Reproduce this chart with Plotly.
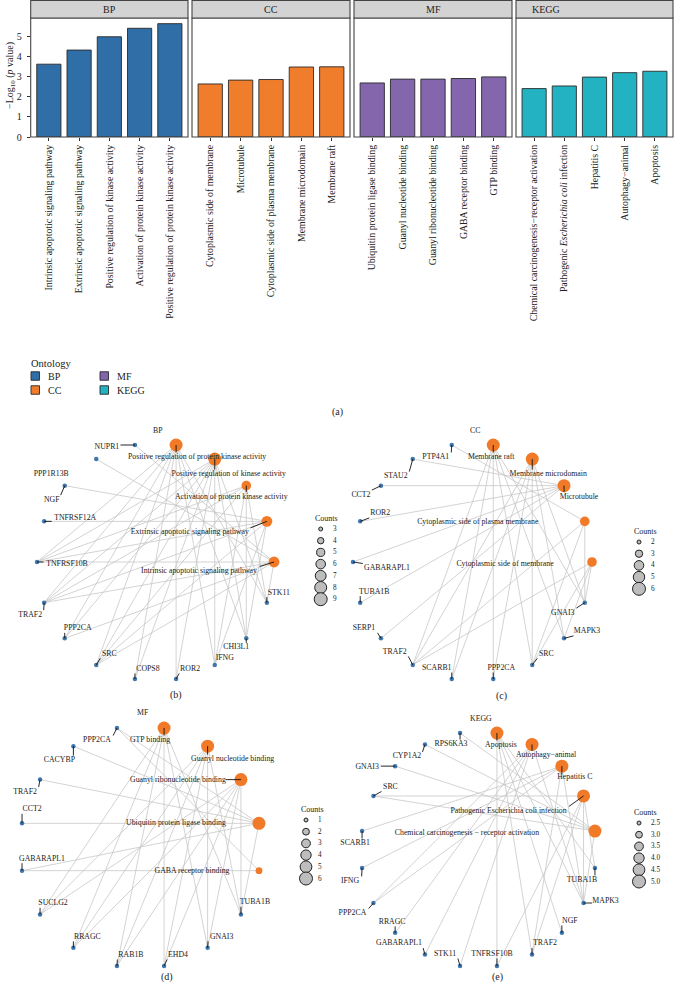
import math
import plotly.graph_objects as go

W, H = 674, 987
FONT = "Liberation Serif"

# ---------------- (a) bar chart data ----------------
ontologies = ["BP", "CC", "MF", "KEGG"]
bp_terms = ["Intrinsic apoptotic signaling pathway", "Extrinsic apoptotic signaling pathway",
            "Positive regulation of kinase activity", "Activation of protein kinase activity",
            "Positive regulation of protein kinase activity"]
bp_logp = [3.61, 4.31, 4.97, 5.39, 5.62]
cc_terms = ["Cytoplasmic side of membrane", "Microtubule", "Cytoplasmic side of plasma membrane",
            "Membrane microdomain", "Membrane raft"]
cc_logp = [2.63, 2.82, 2.85, 3.47, 3.48]
mf_terms = ["Ubiquitin protein ligase binding", "Guanyl nucleotide binding",
            "Guanyl ribonucleotide binding", "GABA receptor binding", "GTP binding"]
mf_logp = [2.68, 2.87, 2.87, 2.90, 2.98]
kegg_terms = ["Chemical carcinogenesis−receptor activation", "Pathogenic Escherichia coli infection",
              "Hepatitis C", "Autophagy−animal", "Apoptosis"]
kegg_ticktext = ["Chemical carcinogenesis−receptor activation",
                 "Pathogenic <i>Escherichia coli</i> infection",
                 "Hepatitis C", "Autophagy−animal", "Apoptosis"]
kegg_logp = [2.40, 2.53, 2.97, 3.19, 3.26]
y_ticks = [0, 1, 2, 3, 4, 5]

# ---------------- (b)-(e) network data ----------------
bp_net_nodes = ["Positive regulation of protein kinase activity", "Positive regulation of kinase activity",
                "Activation of protein kinase activity", "Extrinsic apoptotic signaling pathway",
                "Intrinsic apoptotic signaling pathway", "STK11", "CHI3L1", "IFNG", "ROR2", "COPS8", "SRC",
                "PPP2CA", "TRAF2", "TNFRSF10B", "TNFRSF12A", "NGF", "PPP1R13B", "NUPR1"]
bp_net_edges = {
    "Positive regulation of protein kinase activity":
        ["PPP2CA", "SRC", "COPS8", "ROR2", "IFNG", "CHI3L1", "TRAF2", "TNFRSF10B", "STK11"],
    "Positive regulation of kinase activity":
        ["PPP2CA", "SRC", "COPS8", "ROR2", "IFNG", "CHI3L1", "TRAF2", "TNFRSF10B", "STK11"],
    "Activation of protein kinase activity": ["TRAF2", "TNFRSF10B", "SRC", "IFNG", "CHI3L1", "STK11"],
    "Extrinsic apoptotic signaling pathway":
        ["TNFRSF12A", "TNFRSF10B", "TRAF2", "NGF", "IFNG", "CHI3L1", "SRC"],
    "Intrinsic apoptotic signaling pathway":
        ["NUPR1", "PPP1R13B", "TNFRSF10B", "TRAF2", "STK11", "SRC", "PPP2CA"],
}
bp_count_breaks = [3, 4, 5, 6, 7, 8, 9]
bp_count_labels = ["3", "4", "5", "6", "7", "8", "9"]

cc_net_nodes = ["Membrane raft", "Membrane microdomain", "Microtubule", "Cytoplasmic side of plasma membrane",
                "Cytoplasmic side of membrane", "GNAI3", "MAPK3", "SRC", "PPP2CA", "SCARB1", "TRAF2", "SERP1",
                "TUBA1B", "GABARAPL1", "ROR2", "CCT2", "STAU2", "PTP4A1"]
cc_net_edges = {
    "Membrane raft": ["TRAF2", "SCARB1", "PPP2CA", "SRC", "MAPK3", "GNAI3"],
    "Membrane microdomain": ["TRAF2", "SCARB1", "PPP2CA", "SRC", "MAPK3", "GNAI3"],
    "Microtubule": ["STAU2", "CCT2", "ROR2", "GABARAPL1", "TUBA1B", "SERP1"],
    "Cytoplasmic side of plasma membrane": ["PTP4A1", "TRAF2", "SRC", "GNAI3"],
    "Cytoplasmic side of membrane": ["TRAF2", "SRC", "GNAI3", "MAPK3"],
}
cc_count_breaks = [2, 3, 4, 5, 6]
cc_count_labels = ["2", "3", "4", "5", "6"]

mf_net_nodes = ["GTP binding", "Guanyl nucleotide binding", "Guanyl ribonucleotide binding",
                "Ubiquitin protein ligase binding", "GABA receptor binding", "TUBA1B", "GNAI3", "EHD4",
                "RAB1B", "RRAGC", "SUCLG2", "GABARAPL1", "CCT2", "TRAF2", "CACYBP", "PPP2CA"]
mf_net_edges = {
    "GTP binding": ["TUBA1B", "GNAI3", "EHD4", "RAB1B", "RRAGC", "SUCLG2"],
    "Guanyl nucleotide binding": ["TUBA1B", "GNAI3", "EHD4", "RAB1B", "RRAGC", "SUCLG2"],
    "Guanyl ribonucleotide binding": ["TUBA1B", "GNAI3", "EHD4", "RAB1B", "RRAGC", "SUCLG2"],
    "Ubiquitin protein ligase binding": ["CCT2", "TRAF2", "CACYBP", "TUBA1B", "GABARAPL1", "PPP2CA"],
    "GABA receptor binding": ["GABARAPL1", "PPP2CA"],
}
mf_count_breaks = [1, 2, 3, 4, 5, 6]
mf_count_labels = ["1", "2", "3", "4", "5", "6"]

kegg_net_nodes = ["Apoptosis", "Autophagy−animal", "Hepatitis C", "Pathogenic Escherichia coli infection",
                  "Chemical carcinogenesis − receptor activation", "TUBA1B", "MAPK3", "NGF", "TRAF2",
                  "TNFRSF10B", "STK11", "GABARAPL1", "RRAGC", "PPP2CA", "IFNG", "SCARB1", "SRC", "GNAI3",
                  "CYP1A2", "RPS6KA3"]
kegg_net_edges = {
    "Apoptosis": ["TUBA1B", "MAPK3", "NGF", "TRAF2", "TNFRSF10B"],
    "Autophagy−animal": ["MAPK3", "STK11", "GABARAPL1", "RRAGC", "PPP2CA"],
    "Hepatitis C": ["MAPK3", "TRAF2", "PPP2CA", "SCARB1", "IFNG"],
    "Pathogenic Escherichia coli infection": ["TUBA1B", "TRAF2", "TNFRSF10B", "SRC", "MAPK3"],
    "Chemical carcinogenesis − receptor activation": ["MAPK3", "SRC", "GNAI3", "CYP1A2", "RPS6KA3"],
}
kegg_count_breaks = [2.5, 3.0, 3.5, 4.0, 4.5, 5.0]
kegg_count_labels = ["2.5", "3.0", "3.5", "4.0", "4.5", "5.0"]

# ---------------- styles / layout ----------------
COLORS = {"BP": "#2f6ea7", "CC": "#f07d2c", "MF": "#8466ad", "KEGG": "#23b2c2"}
TERM_COLOR = "#f07a28"
GENE_COLOR = "#3f77ae"
EDGE_COLOR = "#c4c4c4"
TXT = "#222222"

bar_panels = [  # px extents of facet panels
    ("x", "xaxis", 30.7, 188.0, bp_terms, bp_logp, None, "BP", 0.5),
    ("x2", "xaxis2", 192.0, 350.0, cc_terms, cc_logp, None, "CC", 0.5),
    ("x3", "xaxis3", 354.0, 512.0, mf_terms, mf_logp, None, "MF", 0.5),
    ("x4", "xaxis4", 516.0, 673.0, kegg_terms, kegg_logp, kegg_ticktext, "KEGG", 0.19),
]
PANEL_TOP, PANEL_BOT, STRIP_TOP = 18.0, 137.0, 0.5
# manual two-column Ontology legend: (ontology, square-left px, centre-y px)
ontology_legend_slots = [("BP", 31, 376), ("CC", 31, 390), ("MF", 100, 376), ("KEGG", 100, 390)]

bp_offsets = {
    "Positive regulation of protein kinase activity": (21, 12),
    "Positive regulation of kinase activity": (14, 15),
    "Activation of protein kinase activity": (-15, 11),
    "Extrinsic apoptotic signaling pathway": (-77, 11),
    "Intrinsic apoptotic signaling pathway": (-75, 9),
    "STK11": (12, -10), "CHI3L1": (-10, 9), "IFNG": (10, -7), "ROR2": (14, -10),
    "COPS8": (13, -10), "SRC": (13, -11), "PPP2CA": (13, -10), "TRAF2": (-14, 12),
    "TNFRSF10B": (30, 2), "TNFRSF12A": (31, -3), "NGF": (-13, 14), "PPP1R13B": (-45, 15), "NUPR1": (-28, 2),
}
cc_offsets = {
    "Membrane raft": (-2, 12), "Membrane microdomain": (16, 15), "Microtubule": (15, 11),
    "Cytoplasmic side of plasma membrane": (-107, 1), "Cytoplasmic side of membrane": (-87, 2),
    "GNAI3": (-22, 10), "MAPK3": (23, -7), "SRC": (14, -11), "PPP2CA": (8, -11), "SCARB1": (-15, -11),
    "TRAF2": (-18, -13), "SERP1": (-17, -10), "TUBA1B": (14, -11), "GABARAPL1": (34, 6), "ROR2": (20, -8),
    "CCT2": (-20, 9), "STAU2": (-17, 17), "PTP4A1": (-16, 12),
}
mf_offsets = {
    "GTP binding": (-14, 12), "Guanyl nucleotide binding": (25, 13), "Guanyl ribonucleotide binding": (-63, 0),
    "Ubiquitin protein ligase binding": (-83, 0), "GABA receptor binding": (-67, 0),
    "TUBA1B": (14, -12), "GNAI3": (14, -11), "EHD4": (14, -11), "RAB1B": (14, -11), "RRAGC": (14, -11),
    "SUCLG2": (13, -11), "GABARAPL1": (20, -12), "CCT2": (10, -14), "TRAF2": (-15, 12), "CACYBP": (-14, 14),
    "PPP2CA": (-20, 12),
}
kegg_offsets = {
    "Apoptosis": (4, 12), "Autophagy−animal": (14, 11), "Hepatitis C": (13, 11),
    "Pathogenic Escherichia coli infection": (-75, 15),
    "Chemical carcinogenesis − receptor activation": (-128, 2),
    "TUBA1B": (-13, 12), "MAPK3": (22, -2), "NGF": (8, -12), "TRAF2": (13, -11), "TNFRSF10B": (-5, -12),
    "STK11": (-15, -12), "GABARAPL1": (-26, -11), "RRAGC": (-3, -11), "PPP2CA": (-21, 10), "IFNG": (-12, 13),
    "SCARB1": (-7, 12), "SRC": (17, -9), "GNAI3": (-28, 1), "CYP1A2": (-18, 12), "RPS6KA3": (-9, 11),
}

net_panels = [
    dict(n=5, title="BP", nodes=bp_net_nodes, edges=bp_net_edges, breaks=bp_count_breaks,
         blabels=bp_count_labels, offsets=bp_offsets, cx=155.5, cy=562.0, rx=118.5, ry=118.8,
         box=(0, 337, 425, 705), caption="(b)", cap=(176, 695), leg=(320.7, 529.0)),
    dict(n=6, title="CC", nodes=cc_net_nodes, edges=cc_net_edges, breaks=cc_count_breaks,
         blabels=cc_count_labels, offsets=cc_offsets, cx=472.5, cy=562.0, rx=119.5, ry=118.8,
         box=(337, 674, 425, 705), caption="(c)", cap=(501, 696), leg=(639.0, 542.0)),
    dict(n=7, title="MF", nodes=mf_net_nodes, edges=mf_net_edges, breaks=mf_count_breaks,
         blabels=mf_count_labels, offsets=mf_offsets, cx=140.5, cy=847.0, rx=120.8, ry=121.3,
         box=(0, 337, 705, 987), caption="(d)", cap=(167, 977), leg=(306.0, 820.0)),
    dict(n=8, title="KEGG", nodes=kegg_net_nodes, edges=kegg_net_edges, breaks=kegg_count_breaks,
         blabels=kegg_count_labels, offsets=kegg_offsets, cx=478.5, cy=849.5, rx=117.9, ry=117.9,
         box=(337, 674, 705, 987), caption="(e)", cap=(497, 977), leg=(639.0, 823.0)),
]
NET_FS = 7.8
D_MIN, D_MAX = 4.0, 13.0
GENE_D = 4.5
MAX_LEADER = 26.0


def px_x(v):
    return min(max(v / W, 0.0), 1.0)


def px_y(v):
    return min(max(1 - v / H, 0.0), 1.0)


def text_width(s, fs):
    w = 0.0
    for ch in s:
        if ch.isupper():
            w += 0.68
        elif ch.isdigit():
            w += 0.5
        elif ch == " ":
            w += 0.25
        elif ch in "iljtf":
            w += 0.3
        elif ch in "mw":
            w += 0.75
        else:
            w += 0.46
    return w * fs


def size_scale(v, vmin, vmax):
    t = (v - vmin) / (vmax - vmin) if vmax > vmin else 1.0
    t = min(max(t, 0.0), 1.0)
    return math.sqrt(D_MIN ** 2 + (D_MAX ** 2 - D_MIN ** 2) * t)


def circle_positions(nodes, cx, cy, rx, ry):
    n = len(nodes)
    step = 360.0 / n
    pos = {}
    for k, name in enumerate(nodes):
        th = math.radians(90 - step / 2 - step * k)
        pos[name] = (cx + rx * math.cos(th), cy - ry * math.sin(th))
    return pos


fig = go.Figure()
layout = dict(
    width=W, height=H, margin=dict(l=0, r=0, t=0, b=0, pad=0),
    paper_bgcolor="white", plot_bgcolor="white",
    font=dict(family=FONT, color=TXT, size=10),
    showlegend=False,
)
shapes = []
annotations = []

# ---------------- (a) bar facets ----------------
for ref, axname, x0, x1, terms, vals, ttext, ont, strip_x in bar_panels:
    fig.add_trace(go.Bar(
        x=terms, y=vals, xaxis=ref, yaxis="y", name=ont,
        marker=dict(color=COLORS[ont], line=dict(color="#2a2a2a", width=0.9)),
        width=0.8, hoverinfo="x+y",
    ))
    ax = dict(domain=[px_x(x0), px_x(x1)], anchor="y", range=[-0.6, len(terms) - 0.4],
              type="category", tickangle=-90, ticks="outside", ticklen=3, tickcolor="#333",
              tickfont=dict(size=9.8, family=FONT, color=TXT), showgrid=False, zeroline=False,
              showline=False, fixedrange=True, automargin=False)
    ax["tickvals"] = terms
    ax["ticktext"] = ttext if ttext else terms
    layout[axname] = ax
    dref = ref + " domain"
    shapes.append(dict(type="rect", xref=dref, yref="y domain", x0=0, x1=1, y0=0, y1=1,
                       line=dict(color="#444", width=1.1), fillcolor="rgba(0,0,0,0)", layer="above"))
    shapes.append(dict(type="rect", xref=dref, yref="paper", x0=0, x1=1,
                       y0=px_y(PANEL_TOP), y1=px_y(STRIP_TOP),
                       line=dict(color="#444", width=1.1), fillcolor="#d3d3d3"))
    annotations.append(dict(text=ont, xref=dref, yref="paper", x=strip_x, y=px_y((PANEL_TOP + STRIP_TOP) / 2),
                            showarrow=False, font=dict(size=10, family=FONT, color=TXT),
                            xanchor="center", yanchor="middle"))

layout["yaxis"] = dict(domain=[px_y(PANEL_BOT), px_y(PANEL_TOP)], anchor="x", range=[0, 5.9],
                       tickvals=y_ticks, ticks="outside", ticklen=3, tickcolor="#333",
                       ticklabelstandoff=3,
                       tickfont=dict(size=10, family=FONT, color=TXT), showgrid=False, zeroline=False,
                       showline=False, fixedrange=True, automargin=False)
annotations.append(dict(text="−Log<sub>10</sub> (<i>p</i> value)", xref="paper", yref="paper",
                        x=px_x(10), y=px_y(76), textangle=-90, showarrow=False,
                        xanchor="center", yanchor="middle",
                        font=dict(size=10, family=FONT, color=TXT)))
annotations.append(dict(text="(a)", xref="paper", yref="paper", x=px_x(337), y=px_y(412),
                        xanchor="center", yanchor="middle",
                        showarrow=False, font=dict(size=10, family=FONT, color=TXT)))

# Ontology legend (two columns, like the reference)
annotations.append(dict(text="Ontology", xref="paper", yref="paper", x=px_x(29), y=px_y(363),
                        xanchor="left", yanchor="middle", showarrow=False,
                        font=dict(size=10.5, family=FONT, color=TXT)))
for ont, lx0, lyc in ontology_legend_slots:
    shapes.append(dict(type="rect", xref="paper", yref="paper", x0=px_x(lx0), x1=px_x(lx0 + 8.5),
                       y0=px_y(lyc + 4.25), y1=px_y(lyc - 4.25), fillcolor=COLORS[ont],
                       line=dict(color="#2a2a2a", width=0.9)))
    annotations.append(dict(text=ont, xref="paper", yref="paper", x=px_x(lx0 + 15), y=px_y(lyc),
                            xanchor="left", yanchor="middle", showarrow=False,
                            font=dict(size=10, family=FONT, color=TXT)))

# ---------------- (b)-(e) networks ----------------
for P in net_panels:
    n = P["n"]
    xr, yr = "x%d" % n, "y%d" % n
    bx0, bx1, by0, by1 = P["box"]
    layout["xaxis%d" % n] = dict(domain=[px_x(bx0), px_x(bx1)], range=[bx0, bx1], visible=False,
                                 fixedrange=True, anchor=yr)
    layout["yaxis%d" % n] = dict(domain=[px_y(by1), px_y(by0)], range=[by1, by0], visible=False,
                                 fixedrange=True, anchor=xr)
    pos = circle_positions(P["nodes"], P["cx"], P["cy"], P["rx"], P["ry"])
    terms = list(P["edges"].keys())
    genes = [g for g in P["nodes"] if g not in P["edges"]]
    vmin, vmax = P["breaks"][0], P["breaks"][-1]

    ex, ey = [], []
    for t, gl in P["edges"].items():
        for g in gl:
            ex += [pos[t][0], pos[g][0], None]
            ey += [pos[t][1], pos[g][1], None]
    fig.add_trace(go.Scatter(x=ex, y=ey, xaxis=xr, yaxis=yr, mode="lines",
                             line=dict(color=EDGE_COLOR, width=0.75), hoverinfo="skip", showlegend=False))
    fig.add_trace(go.Scatter(x=[pos[g][0] for g in genes], y=[pos[g][1] for g in genes], xaxis=xr, yaxis=yr,
                             mode="markers",
                             marker=dict(size=GENE_D, color=GENE_COLOR, opacity=1, line=dict(width=0)),
                             text=genes, hoverinfo="text", showlegend=False))
    counts = [len(P["edges"][t]) for t in terms]
    fig.add_trace(go.Scatter(x=[pos[t][0] for t in terms], y=[pos[t][1] for t in terms], xaxis=xr, yaxis=yr,
                             mode="markers",
                             marker=dict(size=[size_scale(c, vmin, vmax) for c in counts], color=TERM_COLOR,
                                         opacity=1, line=dict(width=0)),
                             text=["%s (%d)" % (t, c) for t, c in zip(terms, counts)], hoverinfo="text",
                             showlegend=False))
    lx, ly, lt = [], [], []
    sx, sy = [], []
    for name in P["nodes"]:
        nx, ny = pos[name]
        dx, dy = P["offsets"][name]
        cx_, cy_ = nx + dx, ny + dy
        lx.append(cx_)
        ly.append(cy_)
        lt.append(name)
        w = text_width(name, NET_FS) / 2 + 1.0
        h = NET_FS * 0.45 + 1.0
        qx = min(max(nx, cx_ - w), cx_ + w)
        qy = min(max(ny, cy_ - h), cy_ + h)
        d = math.hypot(qx - nx, qy - ny)
        if 3.5 < d <= MAX_LEADER:
            sx += [nx, qx, None]
            sy += [ny, qy, None]
    fig.add_trace(go.Scatter(x=sx, y=sy, xaxis=xr, yaxis=yr, mode="lines",
                             line=dict(color="#111", width=0.9), hoverinfo="skip", showlegend=False))
    fig.add_trace(go.Scatter(x=lx, y=ly, xaxis=xr, yaxis=yr, mode="text", text=lt,
                             textposition="middle center",
                             textfont=dict(size=NET_FS, family=FONT, color=TXT),
                             hoverinfo="skip", showlegend=False))
    gx, gy0 = P["leg"]
    step = 11.7
    ly_list = [gy0 + i * step for i in range(len(P["breaks"]))]
    fig.add_trace(go.Scatter(x=[gx] * len(P["breaks"]), y=ly_list, xaxis=xr, yaxis=yr, mode="markers",
                             marker=dict(size=[size_scale(b, vmin, vmax) for b in P["breaks"]],
                                         color="#bdbdbd", opacity=1, line=dict(color="#222", width=1)),
                             hoverinfo="skip", showlegend=False))
    for yy, lab in zip(ly_list, P["blabels"]):
        annotations.append(dict(text=lab, xref=xr, yref=yr, x=gx + 10, y=yy, xanchor="left",
                                yanchor="middle", showarrow=False,
                                font=dict(size=7.2, family=FONT, color=TXT)))
    annotations.append(dict(text="Counts", xref=xr, yref=yr, x=gx - 7.5, y=gy0 - 10.5, xanchor="left",
                            yanchor="middle", showarrow=False, font=dict(size=8, family=FONT, color=TXT)))
    annotations.append(dict(text=P["title"], xref=xr, yref=yr, x=P["cx"] + 2.5,
                            y=P["cy"] - P["ry"] - 13, showarrow=False,
                            xanchor="center", yanchor="middle",
                            font=dict(size=7.8, family=FONT, color=TXT)))
    annotations.append(dict(text=P["caption"], xref=xr, yref=yr, x=P["cap"][0], y=P["cap"][1],
                            xanchor="center", yanchor="middle",
                            showarrow=False, font=dict(size=10, family=FONT, color=TXT)))

layout["shapes"] = shapes
layout["annotations"] = annotations
fig.update_layout(**layout)
fig.write_html("out.html",
               config={"displayModeBar": False},
               post_script="document.documentElement.style.margin='0';"
                           "document.body.style.margin='0';document.body.style.padding='0';"
                           "document.body.style.overflow='hidden';")
